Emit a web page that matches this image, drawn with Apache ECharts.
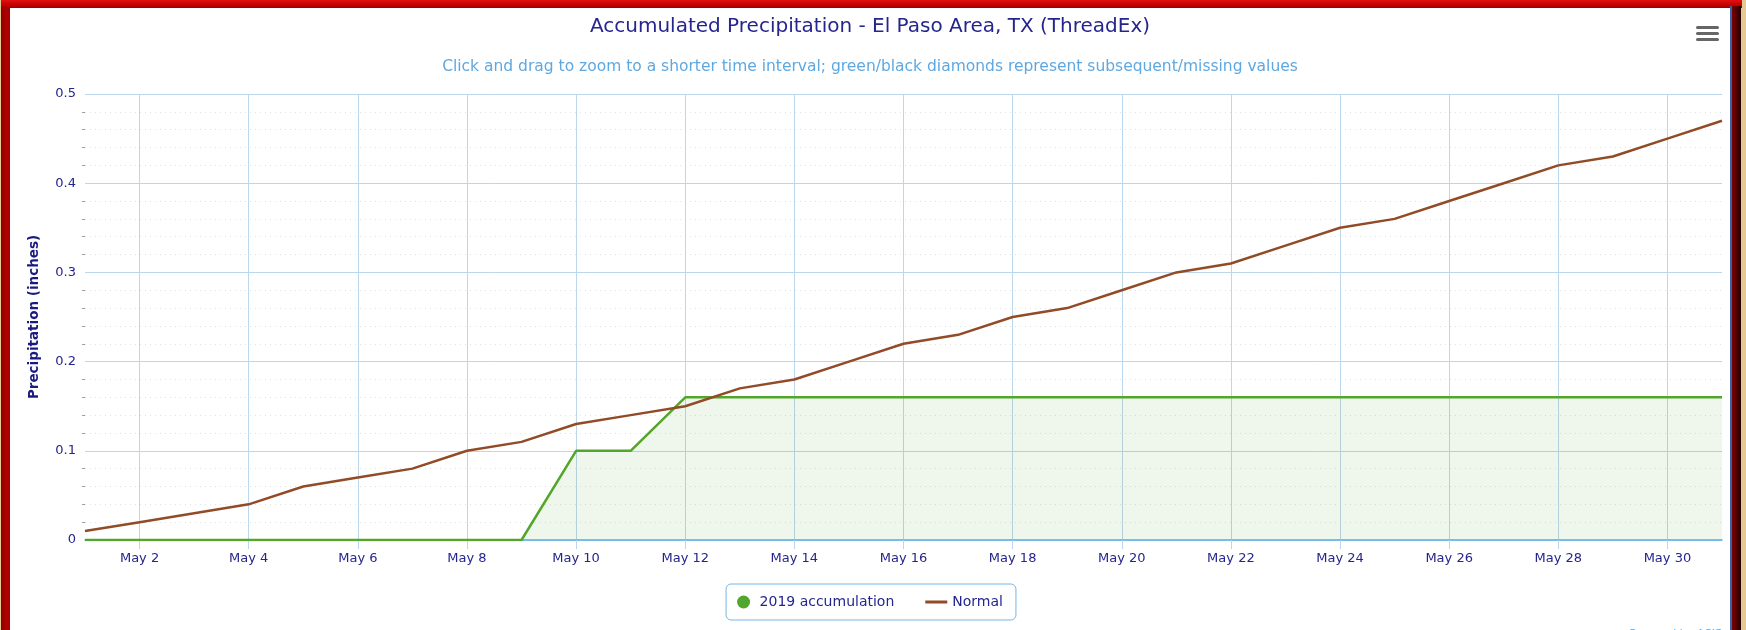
<!DOCTYPE html>
<html>
<head>
<meta charset="utf-8">
<title>Accumulated Precipitation - El Paso Area, TX</title>
<script src="https://cdn.jsdelivr.net/npm/echarts@6/dist/echarts.min.js"></script>
<style>
  html, body { margin: 0; padding: 0; background: #e6c893; }
  #frame { position: absolute; left: 0; top: 0; width: 1746px; height: 630px; overflow: hidden; }
  #leftBar { position: absolute; left: 1px; top: 0; width: 9px; height: 630px; background: linear-gradient(to right, #8a0000, #b30000 60%, #a00000); }
  #topBar { position: absolute; left: 1px; top: 0; width: 1741px; height: 8px; background: linear-gradient(to bottom, #e01010, #c80000 60%, #9a0000); }
  #rightBar { position: absolute; left: 1730px; top: 6px; width: 11px; height: 624px; background: linear-gradient(to right, #3d5fa8 0, #3d5fa8 2px, #7a0000 2px, #3a0000 80%, #200000); }
  #chart { position: absolute; left: 10px; top: 8px; width: 1720px; height: 622px; background: #fff; }
</style>
</head>
<body>
<div id="frame">
  <div id="leftBar"></div>
  <div id="topBar"></div>
  <div id="rightBar"></div>
  <div id="chart"></div>
</div>
<script>
// days of May 2019
const days = [
  "May 1", "May 2", "May 3", "May 4", "May 5", "May 6", "May 7", "May 8",
  "May 9", "May 10", "May 11", "May 12", "May 13", "May 14", "May 15", "May 16",
  "May 17", "May 18", "May 19", "May 20", "May 21", "May 22", "May 23", "May 24",
  "May 25", "May 26", "May 27", "May 28", "May 29", "May 30", "May 31",
];
// 2019 accumulation (inches)
const accum2019 = [
  0, 0, 0, 0, 0, 0, 0, 0, 0, 0.10, 0.10, 0.16, 0.16, 0.16, 0.16, 0.16,
  0.16, 0.16, 0.16, 0.16, 0.16, 0.16, 0.16, 0.16, 0.16, 0.16, 0.16, 0.16, 0.16, 0.16, 0.16,
];
// normal accumulation (inches)
const normal = [
  0.01, 0.02, 0.03, 0.04, 0.06, 0.07, 0.08, 0.10, 0.11, 0.13, 0.14, 0.15, 0.17, 0.18, 0.20, 0.22,
  0.23, 0.25, 0.26, 0.28, 0.30, 0.31, 0.33, 0.35, 0.36, 0.38, 0.40, 0.42, 0.43, 0.45, 0.47,
];

const font = "DejaVu Sans";
const navy = "#25258f";
const gridBlue = "#bcd6ec";
const everyOther = (idx) => idx % 2 === 1;

const option = {
  animation: false,
  textStyle: { fontFamily: font },
  title: [
    {
      text: "Accumulated Precipitation - El Paso Area, TX (ThreadEx)",
      left: "center",
      top: 4,
      textStyle: { fontFamily: font, fontSize: 20, fontWeight: "normal", color: navy },
    },
    {
      text: "Click and drag to zoom to a shorter time interval; green/black diamonds represent subsequent/missing values",
      left: "center",
      top: 46,
      textStyle: { fontFamily: font, fontSize: 15.5, fontWeight: "normal", color: "#5ea8e2" },
    },
  ],
  grid: {
    left: 75,
    right: 8,
    top: 86,
    bottom: 90,
  },
  legend: {
    left: "center",
    top: 576,
    padding: [11, 13, 11, 11],
    itemGap: 31,
    itemWidth: 22,
    itemHeight: 13,
    borderColor: "#76b4e6",
    borderWidth: 1,
    borderRadius: 5,
    textStyle: { fontFamily: font, fontSize: 14, color: navy },
    data: [
      { name: "2019 accumulation", icon: "circle" },
      { name: "Normal", icon: "path://M0,0H22V3H0Z" },
    ],
  },
  xAxis: {
    type: "category",
    data: days,
    boundaryGap: false,
    axisLine: { lineStyle: { color: "#5aaee6", width: 1.5 } },
    axisTick: { interval: everyOther, length: 9, lineStyle: { color: gridBlue } },
    axisLabel: { interval: everyOther, margin: 12, fontFamily: font, fontSize: 13, color: navy },
    splitLine: { show: true, interval: everyOther, lineStyle: { color: gridBlue } },
  },
  yAxis: {
    type: "value",
    min: 0,
    max: 0.5,
    interval: 0.1,
    name: "Precipitation (inches)",
    nameLocation: "middle",
    nameGap: 44,
    nameTextStyle: { fontFamily: font, fontSize: 13.5, fontWeight: "bold", color: "#1a1a80" },
    axisLine: { show: false },
    axisTick: { show: false },
    axisLabel: { margin: 9, fontFamily: font, fontSize: 13, color: navy },
    splitLine: { lineStyle: { color: gridBlue } },
    minorTick: { show: true, splitNumber: 5, length: 3, lineStyle: { color: "#a0a0a0" } },
    minorSplitLine: { show: true, lineStyle: { color: "#e2e2e2", type: [1, 4] } },
  },
  series: [
    {
      name: "2019 accumulation",
      type: "line",
      data: accum2019,
      symbol: "none",
      z: 3,
      lineStyle: { color: "#52a62b", width: 2.5 },
      itemStyle: { color: "#52a62b" },
      areaStyle: { color: "rgba(82, 166, 43, 0.13)" },
    },
    {
      name: "Normal",
      type: "line",
      data: normal,
      symbol: "none",
      z: 4,
      lineStyle: { color: "#914b27", width: 2.5 },
      itemStyle: { color: "#914b27" },
    },
  ],
  graphic: [
    // menu button (three bars)
    { type: "rect", left: 1686, top: 18, shape: { width: 23, height: 3, r: 1.5 }, style: { fill: "#666" } },
    { type: "rect", left: 1686, top: 24, shape: { width: 23, height: 3, r: 1.5 }, style: { fill: "#666" } },
    { type: "rect", left: 1686, top: 30, shape: { width: 23, height: 3, r: 1.5 }, style: { fill: "#666" } },
    {
      type: "text",
      right: 8,
      top: 621,
      style: { text: "Powered by ACIS", fontFamily: font, fontSize: 11, fill: "#5ea8e2" },
    },
  ],
};

const chart = echarts.init(document.getElementById("chart"));
chart.setOption(option);
</script>
</body>
</html>
